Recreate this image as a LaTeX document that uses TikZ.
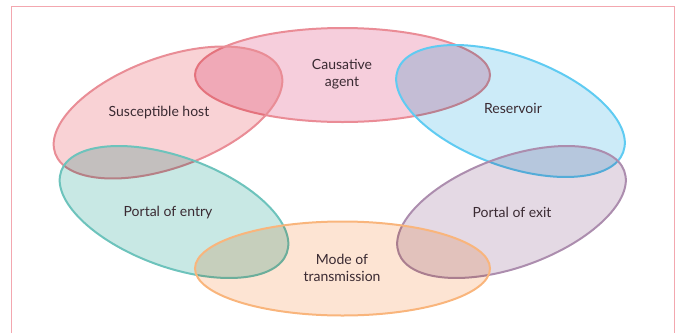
\documentclass[tikz,border=0pt]{standalone}
\usepackage{fontspec}
\setmainfont{Lato}
\usetikzlibrary{shapes.geometric,positioning}

\definecolor{framepink}{HTML}{F3A7AF}
\definecolor{inktext}{HTML}{3A2A32}
\definecolor{agentfill}{HTML}{F6CEDC}
\definecolor{agentline}{HTML}{EA8C96}
\definecolor{hostfill}{HTML}{F9D2D5}
\definecolor{hostline}{HTML}{E98D96}
\definecolor{resfill}{HTML}{CCEBF8}
\definecolor{resline}{HTML}{5FCBF2}
\definecolor{exitfill}{HTML}{E4D9E4}
\definecolor{exitline}{HTML}{AC8DAE}
\definecolor{entryfill}{HTML}{C8E8E4}
\definecolor{entryline}{HTML}{6DC3BC}
\definecolor{modefill}{HTML}{FDE4D3}
\definecolor{modeline}{HTML}{F9B57C}

\tikzset{
  ring/.style 2 args={ellipse, inner sep=0pt, fill=#1,
    minimum width=240pt, minimum height=110pt,
    postaction={draw=#2, line width=2pt, blend mode=normal}},
  flat ring/.style 2 args={ring={#1}{#2}, minimum width=295pt, minimum height=94pt},
  ringtext/.style={text=inktext, align=center,
    font=\fontsize{14}{17}\selectfont}
}

\begin{document}
\begin{tikzpicture}[x=1pt,y=-1pt]
  \useasboundingbox (0,0) rectangle (681,333);
  \draw[framepink, line width=1pt] (11,333) -- (11,6.5) -- (674.5,6.5) -- (674.5,333);

  \begin{scope}[blend mode=multiply]
    \node[flat ring={agentfill}{agentline}]           (agent) at (342.5,75)    {};
    \node[ring={hostfill}{hostline}, rotate=20]       (host)  at (168,112.5)   {};
    \node[ring={resfill}{resline}, rotate=-20]        (res)   at (510.5,111)   {};
    \node[ring={exitfill}{exitline}, rotate=20]       (exit)  at (511.5,212)   {};
    \node[ring={entryfill}{entryline}, rotate=-20]    (entry) at (174,212)     {};
    \node[flat ring={modefill}{modeline}]             (mode)  at (342.5,268.5) {};
  \end{scope}

  \node[ringtext] (agent text) at (342,74.5) {Causative\\agent};
  \node[ringtext] (host text)  at (159,113)  {Susceptible host};
  \node[ringtext] (res text)   at (513,108)  {Reservoir};
  \node[ringtext] (exit text)  at (512,212)  {Portal of exit};
  \node[ringtext] (entry text) at (168,213)  {Portal of entry};
  \node[ringtext] (mode text)  at (342,268)  {Mode of\\transmission};
\end{tikzpicture}
\end{document}
